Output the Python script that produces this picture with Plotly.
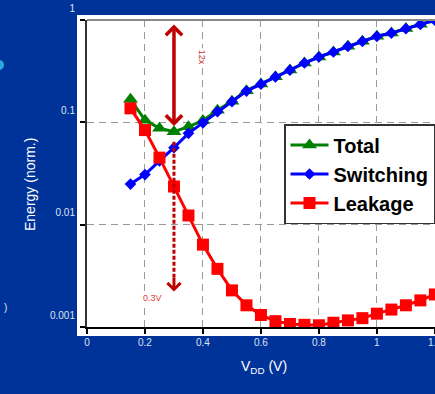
import math
import plotly.graph_objects as go

# ---------------- data ----------------
vdd = [0.15, 0.2, 0.25, 0.3, 0.35, 0.4, 0.45, 0.5, 0.55, 0.6, 0.65, 0.7,
       0.75, 0.8, 0.85, 0.9, 0.95, 1.0, 1.05, 1.1, 1.15, 1.2]

total = [0.168, 0.105, 0.0875, 0.081, 0.0906, 0.104, 0.131, 0.161, 0.204,
         0.237, 0.279, 0.324, 0.381, 0.436, 0.488, 0.554, 0.620, 0.693,
         0.746, 0.825, 0.908, 1.0]

switching = [0.0249, 0.0309, 0.042, 0.0566, 0.0781, 0.099, 0.127, 0.159,
             0.202, 0.236, 0.278, 0.323, 0.380, 0.435, 0.487, 0.553, 0.619,
             0.692, 0.745, 0.823, 0.906, 0.995]

leakage = [0.137, 0.084, 0.0452, 0.0236, 0.0123, 0.00638, 0.0037, 0.00228,
           0.00163, 0.00131, 0.00114, 0.00107, 0.00105, 0.00104, 0.00110,
           0.00116, 0.00122, 0.00135, 0.00148, 0.00163, 0.00182, 0.00208]

x_ticks = [0, 0.2, 0.4, 0.6, 0.8, 1.0, 1.2]
x_ticktext = ["0", "0.2", "0.4", "0.6", "0.8", "1", "1.2"]
y_ticks = [0.001, 0.01, 0.1, 1]
y_ticktext = ["0.001", "0.01", "0.1", "1"]

# annotation values
opt_v = 0.3
ratio_top = 0.935
ratio_bottom = 0.092
dotted_top = 0.0647
dotted_tip = 0.00222

FONT = "Liberation Sans, Arial, sans-serif"
BG = "#003399"
DARKRED = "#c00000"

fig = go.Figure()

fig.add_trace(go.Scatter(
    x=vdd, y=total, name="Total", mode="lines+markers",
    line=dict(color="#008000", width=3),
    marker=dict(symbol="triangle-up", size=13, color="#008000"),
    legendgroup="a"))
fig.add_trace(go.Scatter(
    x=vdd, y=switching, name="Switching", mode="lines+markers",
    line=dict(color="#0000ff", width=3),
    marker=dict(symbol="diamond", size=9, color="#0000ff"),
    legendgroup="b"))
fig.add_trace(go.Scatter(
    x=vdd, y=leakage, name="Leakage", mode="lines+markers",
    line=dict(color="#ff0000", width=3),
    marker=dict(symbol="square", size=12, color="#ff0000"),
    legendgroup="c"))

# dotted vertical arrow shaft
fig.add_trace(go.Scatter(
    x=[opt_v, opt_v], y=[dotted_top, dotted_tip * 1.35], mode="lines",
    line=dict(color=DARKRED, width=3, dash="4px,2px"),
    showlegend=False, hoverinfo="skip"))

# white slide panel behind the chart
fig.add_shape(type="rect", xref="paper", yref="paper",
              x0=-10 / 348, x1=1.05, y0=-9 / 307, y1=1 + 5 / 307,
              fillcolor="white", line=dict(width=0), layer="below")
# grey top frame line
fig.add_shape(type="line", xref="paper", yref="paper",
              x0=0, x1=1, y0=1, y1=1,
              line=dict(color="#888888", width=2))
# cyan bullet remnant at left edge
fig.add_shape(type="circle", xref="paper", yref="paper",
              x0=-93 / 348, x1=-83 / 348, y0=(327 - 70) / 307, y1=(327 - 60) / 307,
              fillcolor="#29a9e0", line=dict(width=0))

# double-headed arrow (12x)
fig.add_annotation(x=opt_v, y=math.log10(ratio_bottom), ax=opt_v,
                   ay=math.log10(ratio_top), xref="x", yref="y",
                   axref="x", ayref="y", text="", showarrow=True,
                   arrowhead=4, startarrowhead=4, arrowside="end+start",
                   arrowsize=0.9, startarrowsize=0.9, arrowwidth=3.5,
                   arrowcolor=DARKRED)
fig.add_annotation(x=0.397, y=-0.36, xref="x", yref="y", text="12x",
                   showarrow=False, textangle=90, bgcolor="white", borderpad=1,
                   font=dict(family=FONT, size=9, color="#d03030"))
# dotted arrow head
fig.add_annotation(x=opt_v, y=math.log10(dotted_tip), ax=opt_v,
                   ay=math.log10(dotted_tip * 1.4), xref="x", yref="y",
                   axref="x", ayref="y", text="", showarrow=True,
                   arrowhead=4, arrowsize=0.85, arrowwidth=3,
                   arrowcolor=DARKRED)
fig.add_annotation(x=0.226, y=-2.72, xref="x", yref="y", text="0.3V",
                   showarrow=False, bgcolor="white", borderpad=1,
                   font=dict(family=FONT, size=9, color="#e03a3a"))

# axis titles
fig.add_annotation(x=(20 - 87) / 348, y=(327 - 185) / 307, xref="paper",
                   yref="paper", text="Energy (norm.)", showarrow=False,
                   textangle=-90, font=dict(family=FONT, size=14, color="white"))
fig.add_annotation(x=(264 - 87) / 348, y=(327 - 378) / 307, xref="paper",
                   yref="paper", text="V<sub>DD</sub> (V)", showarrow=False,
                   font=dict(family=FONT, size=14, color="white"))
fig.add_annotation(x=(2 - 87) / 348, y=(327 - 315) / 307, xref="paper",
                   yref="paper", text=")", showarrow=False,
                   font=dict(family=FONT, size=10, color="#dde4f0"))

grid = dict(showgrid=True, gridcolor="#9a9a9a", gridwidth=1, griddash="7px,5px")

fig.update_xaxes(range=[0, 1.2004], tickvals=x_ticks, ticktext=x_ticktext,
                 ticks="outside", ticklen=5, tickwidth=1.5, tickcolor="black",
                 showline=True, linecolor="black", linewidth=2,
                 zeroline=False, ticklabeloverflow="allow",
                 tickfont=dict(family=FONT, size=10, color="#dde4f0"),
                 **grid)
fig.update_yaxes(type="log", range=[-3, 0], tickvals=y_ticks,
                 ticktext=y_ticktext, ticks="outside", ticklen=5,
                 tickwidth=1.5, tickcolor="black", showline=True,
                 linecolor="#333333", linewidth=2, ticklabelshift=-12,
                 ticklabelstandoff=3, ticklabeloverflow="allow",
                 tickfont=dict(family=FONT, size=10, color="#dde4f0"),
                 **grid)

fig.update_layout(
    width=435, height=394,
    margin=dict(l=87, r=0, t=20, b=67, autoexpand=False),
    paper_bgcolor=BG, plot_bgcolor="white",
    showlegend=True,
    legend=dict(x=(284 - 87) / 348, y=(327 - 124) / 307, xanchor="left",
                yanchor="top", bgcolor="white", bordercolor="#333333",
                borderwidth=1.5, itemwidth=38, tracegroupgap=0,
                font=dict(family=FONT, size=20, color="black", weight="bold")),
)

fig.write_html("out.html", config={"displayModeBar": False},
               post_script="document.body.style.margin='0';"
                           "document.body.style.overflow='hidden';")
